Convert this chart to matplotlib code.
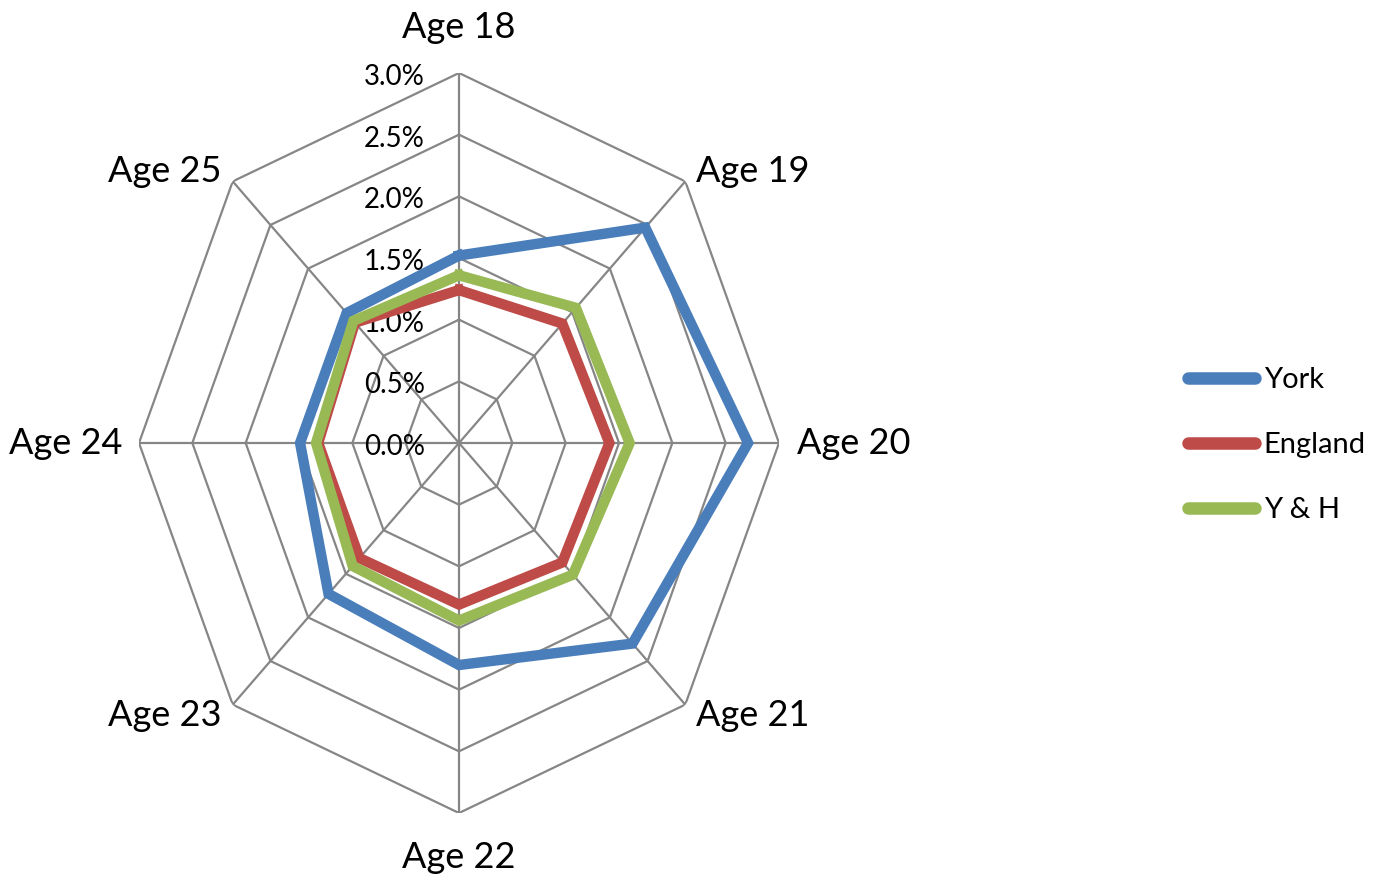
import numpy as np
import matplotlib
matplotlib.use("Agg")
import matplotlib.pyplot as plt

plt.rcParams['font.family'] = ['Lato', 'DejaVu Sans']

categories = ["Age 18", "Age 19", "Age 20", "Age 21", "Age 22", "Age 23", "Age 24", "Age 25"]
york = [1.52, 2.47, 2.71, 2.30, 1.80, 1.73, 1.49, 1.49]
england = [1.24, 1.37, 1.41, 1.37, 1.31, 1.32, 1.32, 1.38]
yh = [1.36, 1.55, 1.60, 1.51, 1.44, 1.41, 1.34, 1.40]
ring_values = [0.0, 0.5, 1.0, 1.5, 2.0, 2.5, 3.0]
ring_labels = ["0.0%", "0.5%", "1.0%", "1.5%", "2.0%", "2.5%", "3.0%"]
series_names = ["York", "England", "Y & H"]
series_colors = ["#4A7EBB", "#BE4B48", "#98B954"]

W, H = 1383, 883
fig = plt.figure(figsize=(W / 100, H / 100), dpi=100)
cx, cy, rx, ry = 459, 443, 320, 370
ax = fig.add_axes([(cx - rx) / W, (H - cy - ry) / H, 2 * rx / W, 2 * ry / H], projection='polar')
ax.set_aspect('auto')
ax.set_theta_zero_location('N')
ax.set_theta_direction(-1)
ax.set_ylim(0, 3.0)
ax.grid(False)
ax.spines['polar'].set_visible(False)
ax.set_xticks([])
ax.set_yticks([])
ax.patch.set_visible(False)

n = len(categories)
angles = np.arange(n) * 2 * np.pi / n
closed = np.concatenate([angles, angles[:1]])

grid_color = "#868686"
for r in ring_values[1:]:
    ax.plot(closed, [r] * (n + 1), color=grid_color, lw=1.6, zorder=1)
for a in angles:
    ax.plot([a, a], [0, ring_values[-1]], color=grid_color, lw=1.6, zorder=1)

for vals, name, col in zip([york, england, yh], series_names, series_colors):
    v = list(vals) + [vals[0]]
    ax.plot(closed, v, color=col, lw=7.5, label=name, zorder=3,
            solid_joinstyle='miter', clip_on=False)

# tick labels
for r, lab in zip(ring_values, ring_labels):
    ax.annotate(lab, xy=(0, r), xytext=(-34, -4), textcoords='offset pixels',
                ha='right', va='center', fontsize=20, color='#000000', zorder=2,
                annotation_clip=False)

# category labels
offsets = [(0, 46, 'center'), (11, 10, 'left'), (18, 0, 'left'), (11, -11, 'left'),
           (0, -45, 'center'), (-11, -11, 'right'), (-17, 0, 'right'), (-11, 10, 'right')]
for a, lab, (dx, dy, ha) in zip(angles, categories, offsets):
    ax.annotate(lab, xy=(a, ring_values[-1]), xytext=(dx, dy), textcoords='offset pixels',
                ha=ha, va='center', fontsize=26, color='#000000', annotation_clip=False)

leg = fig.legend(loc='center left', bbox_to_anchor=(1188 / W, (H - 445) / H), frameon=False,
                 fontsize=21, handlelength=2.3, handletextpad=0.3, labelspacing=1.33,
                 borderpad=0, borderaxespad=0)
for h in leg.get_lines():
    h.set_solid_capstyle('round')
    h.set_linewidth(9)

fig.savefig("out.png", dpi=100)
